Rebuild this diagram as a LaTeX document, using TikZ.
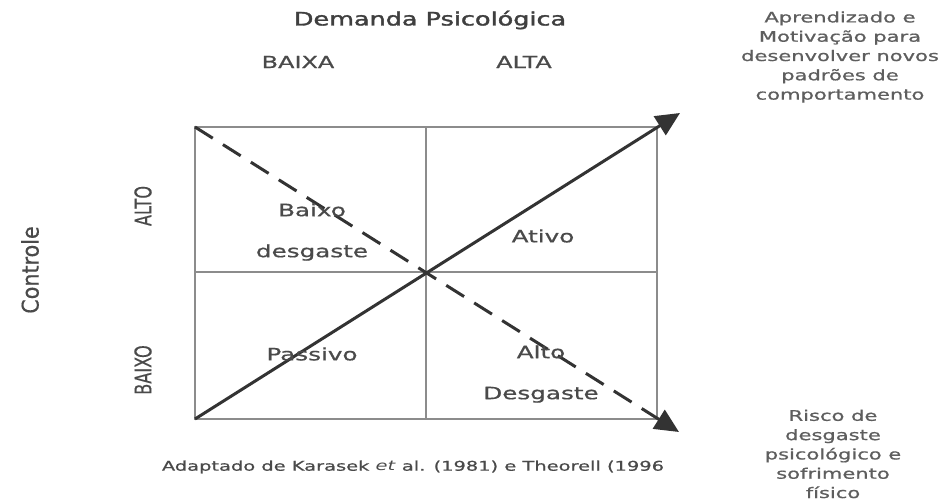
\documentclass[tikz,border=0pt]{standalone}
\usepackage{fontspec}
\setmainfont{DejaVu Sans}[BoldFont=DejaVu Sans, BoldFeatures={FakeBold=0.7}]
\newfontfamily\titlefont{DejaVu Sans}[FakeBold=1.6]
\newfontfamily\narrowfont{DejaVu Sans Condensed}[FakeBold=0.5]
\usetikzlibrary{arrows.meta,positioning}
\definecolor{txtgray}{HTML}{4A4A4A}
\definecolor{notegray}{HTML}{5E5E5E}
\definecolor{linegray}{HTML}{8C8C8C}
\definecolor{arrowgray}{HTML}{333333}

\begin{document}
\begin{tikzpicture}[x=1pt,y=-1pt]
\tikzset{every node/.style={inner sep=0pt, text=txtgray},
  wide/.style={xscale=1.45},
  head/.style={wide, font=\bfseries\fontsize{16.5}{16.5}\selectfont},
  quad/.style={wide, align=center, font=\bfseries\fontsize{17}{41}\selectfont},
  note/.style={wide, align=center, text=notegray, font=\bfseries\fontsize{14.5}{19.3}\selectfont},
  axis/.style={rotate=90, xscale=0.78, font=\narrowfont\fontsize{23}{23}\selectfont},
  grid/.style={draw=linegray, line width=1.4pt},
  flow/.style={draw=arrowgray, line width=3pt, -{Triangle[length=24pt,width=22pt]}}}
\useasboundingbox (0,0) rectangle (950,503);
% frame of the four quadrants
\coordinate (nw) at (195,127);
\coordinate (ne) at (657,127);
\coordinate (sw) at (195,419);
\coordinate (se) at (657,419);
\coordinate (nmid) at (426,127);
\coordinate (smid) at (426,419);
\coordinate (wmid) at (195,272);
\coordinate (emid) at (657,272);
\draw[grid] (nw) rectangle (se);
\draw[grid] (nmid) -- (smid);
\draw[grid] (wmid) -- (emid);
% the two diagonals
\coordinate (uptip) at (680,113);
\coordinate (dntip) at (679,432);
\draw[flow] (sw) -- (uptip);
\draw[flow, dash pattern=on 21pt off 12pt] (nw) -- (dntip);
% headings
\node[wide, xscale=0.95, text=txtgray!85!black, font=\titlefont\fontsize{18.5}{18.5}\selectfont] (title) at (430,20) {Demanda Psicológica};
\node[head] (baixa) at (298,62) {BAIXA};
\node[head] (alta) at (524,62) {ALTA};
\node[axis, xscale=1.28] (controle) at (30,270) {Controle};
\node[axis] (alto) at (143,206) {ALTO};
\node[axis] (baixo) at (143,370) {BAIXO};
% quadrants
\node[quad] (baixodesg) at (312,232) {Baixo\\desgaste};
\node[quad] (ativo) at (543,236) {Ativo};
\node[quad] (passivo) at (312,354) {Passivo};
\node[quad] (altodesg) at (541,374) {Alto\\Desgaste};
% side notes and source
\node[note] (aprend) at (840,57) {Aprendizado e\\Motivação para\\desenvolver novos\\padrões de\\comportamento};
\node[note] (risco) at (833,454) {Risco de\\desgaste\\psicológico e\\sofrimento\\físico};
\node[wide, font=\bfseries\fontsize{13.4}{13.4}\selectfont] (fonte) at (413,467) {Adaptado de Karasek \textit{et} al. (1981) e Theorell (1996};
\end{tikzpicture}
\end{document}
